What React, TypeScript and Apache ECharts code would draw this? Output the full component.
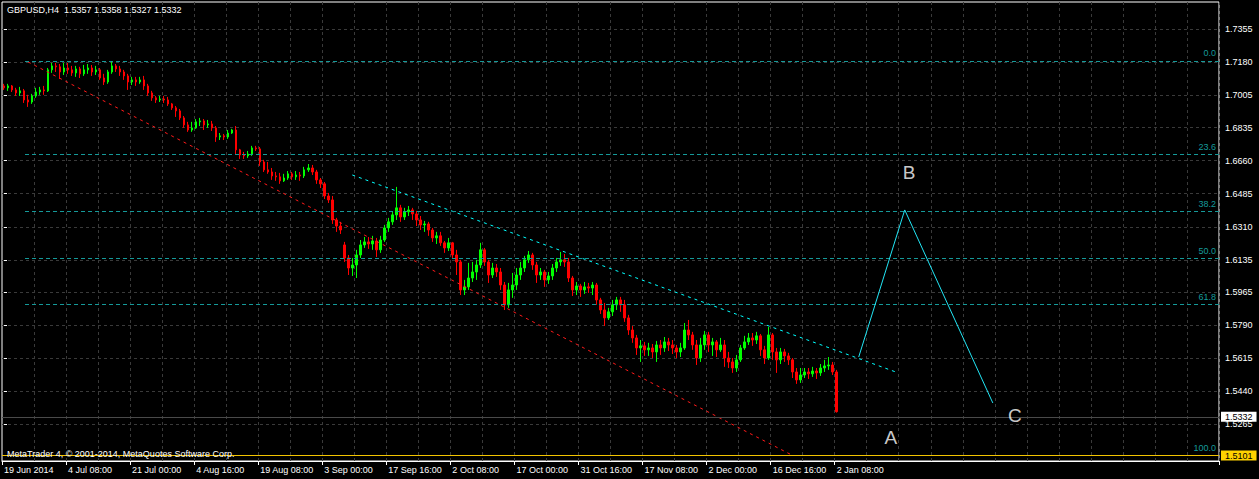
import React, { useEffect, useRef } from "react";
import * as echarts from "echarts";

// ---------- data ----------
const tickLabels = [
  "19 Jun 2014", "4 Jul 08:00", "21 Jul 00:00", "4 Aug 16:00", "19 Aug 08:00",
  "3 Sep 00:00", "17 Sep 16:00", "2 Oct 08:00", "17 Oct 00:00", "31 Oct 16:00",
  "17 Nov 08:00", "2 Dec 00:00", "16 Dec 16:00", "2 Jan 08:00",
];
const priceTicks = [
  1.7355, 1.718, 1.7005, 1.6835, 1.666, 1.6485, 1.631, 1.6135, 1.5965,
  1.579, 1.5615, 1.544, 1.5265,
];
// [open, close, low, high]
const candles = [
  [1.7055,1.7045,1.7034,1.7066],[1.7045,1.7055,1.7029,1.7066],[1.7055,1.7034,1.7023,1.7060],[1.7034,1.7018,1.7002,1.7045],
  [1.7018,1.7029,1.7002,1.7050],[1.7029,1.6981,1.6965,1.7039],[1.6981,1.6970,1.6944,1.7008],[1.6970,1.7002,1.6960,1.7013],
  [1.7002,1.7023,1.6992,1.7045],[1.7023,1.7034,1.7008,1.7050],[1.7034,1.7029,1.7008,1.7055],[1.7029,1.7140,1.7023,1.7150],
  [1.7140,1.7161,1.7124,1.7177],[1.7161,1.7156,1.7129,1.7177],[1.7156,1.7129,1.7092,1.7171],[1.7129,1.7150,1.7113,1.7177],
  [1.7150,1.7140,1.7119,1.7177],[1.7140,1.7124,1.7108,1.7161],[1.7124,1.7145,1.7103,1.7161],[1.7145,1.7119,1.7097,1.7156],
  [1.7119,1.7140,1.7108,1.7166],[1.7140,1.7150,1.7119,1.7171],[1.7150,1.7129,1.7108,1.7166],[1.7129,1.7140,1.7113,1.7161],
  [1.7140,1.7097,1.7087,1.7150],[1.7097,1.7076,1.7060,1.7119],[1.7076,1.7129,1.7066,1.7140],[1.7129,1.7161,1.7119,1.7187],
  [1.7161,1.7145,1.7129,1.7171],[1.7145,1.7129,1.7108,1.7161],[1.7129,1.7108,1.7087,1.7140],[1.7108,1.7076,1.7034,1.7119],
  [1.7076,1.7087,1.7060,1.7103],[1.7087,1.7076,1.7055,1.7103],[1.7076,1.7087,1.7066,1.7103],[1.7087,1.7055,1.7034,1.7108],
  [1.7055,1.7018,1.7002,1.7066],[1.7018,1.6992,1.6976,1.7029],[1.6992,1.6981,1.6965,1.7002],[1.6981,1.6986,1.6970,1.7002],
  [1.6986,1.6981,1.6965,1.7002],[1.6981,1.6960,1.6949,1.6997],[1.6960,1.6939,1.6928,1.6965],[1.6939,1.6923,1.6891,1.6949],
  [1.6923,1.6886,1.6875,1.6933],[1.6886,1.6849,1.6833,1.6896],[1.6849,1.6822,1.6812,1.6865],[1.6822,1.6833,1.6812,1.6865],
  [1.6833,1.6865,1.6828,1.6880],[1.6865,1.6870,1.6843,1.6886],[1.6870,1.6849,1.6822,1.6880],[1.6849,1.6854,1.6833,1.6875],
  [1.6854,1.6833,1.6817,1.6870],[1.6833,1.6785,1.6759,1.6843],[1.6785,1.6791,1.6769,1.6806],[1.6791,1.6785,1.6769,1.6801],
  [1.6785,1.6806,1.6775,1.6822],[1.6806,1.6822,1.6801,1.6828],[1.6822,1.6717,1.6695,1.6843],[1.6717,1.6690,1.6669,1.6722],
  [1.6690,1.6685,1.6669,1.6706],[1.6685,1.6695,1.6674,1.6711],[1.6695,1.6727,1.6685,1.6738],[1.6727,1.6722,1.6711,1.6738],
  [1.6722,1.6653,1.6632,1.6732],[1.6653,1.6611,1.6600,1.6664],[1.6611,1.6600,1.6590,1.6653],[1.6600,1.6579,1.6558,1.6621],
  [1.6579,1.6574,1.6553,1.6600],[1.6574,1.6553,1.6537,1.6595],[1.6553,1.6568,1.6547,1.6590],[1.6568,1.6590,1.6558,1.6605],
  [1.6590,1.6574,1.6558,1.6600],[1.6574,1.6584,1.6558,1.6605],[1.6584,1.6579,1.6553,1.6600],[1.6579,1.6611,1.6568,1.6627],
  [1.6611,1.6621,1.6600,1.6642],[1.6621,1.6600,1.6584,1.6637],[1.6600,1.6558,1.6537,1.6611],[1.6558,1.6537,1.6515,1.6568],
  [1.6537,1.6473,1.6457,1.6547],[1.6473,1.6452,1.6436,1.6489],[1.6452,1.6346,1.6325,1.6473],[1.6346,1.6314,1.6283,1.6357],
  [1.6314,1.6293,1.6272,1.6336],[1.6214,1.6145,1.6124,1.6230],[1.6145,1.6092,1.6055,1.6161],[1.6092,1.6108,1.6050,1.6145],
  [1.6108,1.6161,1.6039,1.6188],[1.6161,1.6214,1.6145,1.6240],[1.6214,1.6230,1.6198,1.6256],[1.6230,1.6219,1.6193,1.6256],
  [1.6219,1.6235,1.6188,1.6262],[1.6235,1.6188,1.6150,1.6251],[1.6188,1.6240,1.6172,1.6262],[1.6240,1.6304,1.6230,1.6320],
  [1.6304,1.6336,1.6283,1.6357],[1.6336,1.6373,1.6320,1.6389],[1.6373,1.6410,1.6346,1.6521],[1.6410,1.6362,1.6336,1.6426],
  [1.6362,1.6389,1.6346,1.6410],[1.6389,1.6399,1.6367,1.6420],[1.6399,1.6378,1.6346,1.6410],[1.6378,1.6346,1.6314,1.6394],
  [1.6346,1.6320,1.6293,1.6367],[1.6320,1.6325,1.6283,1.6341],[1.6325,1.6293,1.6262,1.6336],[1.6293,1.6251,1.6230,1.6304],
  [1.6251,1.6262,1.6219,1.6283],[1.6262,1.6225,1.6209,1.6283],[1.6225,1.6198,1.6172,1.6235],[1.6198,1.6225,1.6182,1.6251],
  [1.6225,1.6161,1.6145,1.6230],[1.6161,1.6124,1.6055,1.6188],[1.6124,1.5976,1.5949,1.6135],[1.5976,1.5992,1.5949,1.6029],
  [1.5992,1.6039,1.5976,1.6119],[1.6039,1.6071,1.6018,1.6124],[1.6071,1.6108,1.6029,1.6135],[1.6108,1.6188,1.6092,1.6225],
  [1.6188,1.6124,1.6103,1.6198],[1.6124,1.6055,1.6013,1.6135],[1.6055,1.6092,1.6039,1.6119],[1.6092,1.6071,1.6045,1.6113],
  [1.6071,1.6002,1.5976,1.6092],[1.6002,1.5897,1.5870,1.6018],[1.5897,1.5976,1.5881,1.6013],[1.5976,1.6002,1.5934,1.6066],
  [1.6002,1.6055,1.5976,1.6092],[1.6055,1.6092,1.6029,1.6124],[1.6092,1.6135,1.6071,1.6156],[1.6135,1.6161,1.6119,1.6182],
  [1.6161,1.6108,1.6082,1.6172],[1.6108,1.6055,1.6013,1.6124],[1.6055,1.6071,1.6029,1.6092],[1.6071,1.6029,1.5992,1.6082],
  [1.6029,1.6050,1.6008,1.6071],[1.6050,1.6092,1.6029,1.6113],[1.6092,1.6124,1.6071,1.6145],[1.6124,1.6135,1.6103,1.6177],
  [1.6135,1.6124,1.6098,1.6166],[1.6124,1.6039,1.6018,1.6145],[1.6039,1.5976,1.5944,1.6050],[1.5976,1.5997,1.5949,1.6018],
  [1.5997,1.5976,1.5939,1.6008],[1.5976,1.5992,1.5955,1.6018],[1.5992,1.5986,1.5960,1.6013],[1.5986,1.6002,1.5949,1.6018],
  [1.6002,1.5923,1.5897,1.6013],[1.5923,1.5870,1.5849,1.5934],[1.5870,1.5828,1.5785,1.5907],[1.5828,1.5860,1.5817,1.5881],
  [1.5860,1.5897,1.5838,1.5923],[1.5897,1.5923,1.5870,1.5939],[1.5923,1.5897,1.5860,1.5939],[1.5897,1.5828,1.5807,1.5923],
  [1.5828,1.5764,1.5738,1.5844],[1.5764,1.5722,1.5696,1.5785],[1.5722,1.5669,1.5632,1.5738],[1.5669,1.5680,1.5595,1.5711],
  [1.5680,1.5659,1.5627,1.5701],[1.5659,1.5669,1.5627,1.5696],[1.5669,1.5648,1.5616,1.5690],[1.5648,1.5685,1.5595,1.5706],
  [1.5685,1.5669,1.5632,1.5711],[1.5669,1.5701,1.5648,1.5727],[1.5701,1.5685,1.5653,1.5722],[1.5685,1.5669,1.5637,1.5711],
  [1.5669,1.5648,1.5616,1.5685],[1.5648,1.5669,1.5621,1.5696],[1.5669,1.5764,1.5659,1.5801],[1.5764,1.5738,1.5711,1.5817],
  [1.5738,1.5685,1.5659,1.5754],[1.5685,1.5616,1.5579,1.5711],[1.5616,1.5685,1.5595,1.5722],[1.5685,1.5738,1.5659,1.5759],
  [1.5738,1.5685,1.5648,1.5754],[1.5685,1.5701,1.5627,1.5722],[1.5701,1.5659,1.5621,1.5711],[1.5659,1.5685,1.5648,1.5722],
  [1.5685,1.5616,1.5569,1.5711],[1.5616,1.5595,1.5563,1.5648],[1.5595,1.5563,1.5537,1.5616],[1.5563,1.5606,1.5542,1.5632],
  [1.5606,1.5669,1.5595,1.5685],[1.5669,1.5701,1.5659,1.5733],[1.5701,1.5722,1.5685,1.5748],[1.5722,1.5711,1.5680,1.5748],
  [1.5711,1.5733,1.5690,1.5754],[1.5733,1.5659,1.5627,1.5743],[1.5659,1.5616,1.5584,1.5680],[1.5616,1.5738,1.5606,1.5780],
  [1.5738,1.5648,1.5606,1.5748],[1.5648,1.5606,1.5537,1.5669],[1.5606,1.5648,1.5584,1.5669],[1.5648,1.5627,1.5595,1.5664],
  [1.5627,1.5606,1.5579,1.5643],[1.5606,1.5542,1.5510,1.5616],[1.5542,1.5500,1.5479,1.5563],[1.5500,1.5526,1.5484,1.5563],
  [1.5526,1.5542,1.5510,1.5563],[1.5542,1.5532,1.5505,1.5563],[1.5532,1.5547,1.5516,1.5569],[1.5547,1.5537,1.5505,1.5563],
  [1.5537,1.5563,1.5521,1.5584],[1.5563,1.5574,1.5542,1.5606],[1.5574,1.5579,1.5553,1.5621],[1.5579,1.5542,1.5526,1.5595],
  [1.5542,1.5332,1.5327,1.5553],
];
const fibLevels = [0.0, 23.6, 38.2, 50.0, 61.8, 100.0];
const fibHigh = 1.7187;
const fibLow = 1.5101;
const fibStartIndex = 5.25;
// drawing objects: [bar index, price]
const lowerChannel = [[6, 1.7182], [196.75, 1.5103]];
const upperChannel = [[87, 1.6584], [222.75, 1.5542]];
const waveABC = [[213.5, 1.5621], [225, 1.6399], [247, 1.5378]];
const waveLabels = [
  { name: "A", value: [221.5, 1.5193] },
  { name: "B", value: [226.1, 1.6595] },
  { name: "C", value: [252.5, 1.5312] },
];
const bidPrice = 1.5332;
const askPrice = 1.5101;
const extraLevel = 1.5346;
const titleText = "GBPUSD,H4  1.5357 1.5358 1.5327 1.5332";
const copyrightText = "MetaTrader 4, \u00a9 2001-2014, MetaQuotes Software Corp.";

// ---------- setup ----------
const SLOTS = 304;
const LAST_TICK = (tickLabels.length - 1) * 16;
const FONT = '"Liberation Sans", Arial, sans-serif';
const GRID = "#3a3a3a";
const TEAL = "#159a9a";
const CYAN = "#00ffff";

const categories = Array.from({ length: SLOTS }, (_, i) =>
  i % 16 === 0 && i / 16 < tickLabels.length ? tickLabels[i / 16] : `#${i}`
);
const isTick = (i: number) => i % 16 === 0 && i <= LAST_TICK;
const fibPrice = (l: number) => fibHigh - ((fibHigh - fibLow) * l) / 100;

const priceBox = (bg: string) => ({
  show: true, position: "end", backgroundColor: bg, color: "#000",
  padding: [1, 4, 0, 4], lineHeight: 9, fontSize: 9, fontFamily: FONT, distance: 2,
  verticalAlign: "middle",
});

const option: any = {
  animation: false,
  backgroundColor: "#000",
  grid: {
    left: 2, top: 2, right: 40, bottom: 18,
    show: true, borderColor: "#fff", borderWidth: 1, backgroundColor: "#000",
  },
  graphic: [
    {
      type: "text", left: 7, top: 5, z: 100,
      style: { text: titleText, fill: "#fff", fontSize: 9, fontFamily: FONT },
    },
    {
      type: "text", left: 7, top: 449, z: 100,
      style: { text: copyrightText, fill: "#fff", fontSize: 9, fontFamily: FONT },
    },
  ],
  xAxis: [
    {
      type: "category", data: categories, boundaryGap: true,
      axisLine: { show: true, lineStyle: { color: "#fff" } },
      axisTick: { show: true, interval: (i: number) => isTick(i), length: 4, lineStyle: { color: "#fff" } },
      axisLabel: {
        interval: (i: number) => isTick(i), color: "#fff", fontSize: 9, fontFamily: FONT,
        align: "left", margin: 4,
        formatter: (v: string) => (v.startsWith("#") ? "" : v),
      },
      splitLine: {
        show: true, interval: (i: number) => i % 8 === 0 && i > 0,
        lineStyle: { color: GRID, type: [3, 3], width: 1 },
      },
    },
    { type: "value", min: -0.5, max: SLOTS - 0.5, show: false },
  ],
  yAxis: {
    type: "value", position: "right", min: 1.5071, max: 1.7499, scale: true,
    axisLine: { show: false },
    axisTick: { show: true, length: 3, lineStyle: { color: "#fff" }, customValues: priceTicks },
    axisLabel: {
      customValues: priceTicks, color: "#fff", fontSize: 9, lineHeight: 9, fontFamily: FONT, margin: 6,
      formatter: (v: number) => v.toFixed(4),
    },
    splitLine: { show: true, lineStyle: { color: GRID, type: [3, 3], width: 1 } },
  },
  series: [
    {
      type: "candlestick", xAxisIndex: 0, yAxisIndex: 0, data: candles, barWidth: 2,
      itemStyle: {
        color: "#00ff00", color0: "#ff0000", borderColor: "#00ff00", borderColor0: "#ff0000", borderWidth: 1,
      },
      silent: true, z: 3,
    },
    {
      type: "line", xAxisIndex: 1, yAxisIndex: 0, data: lowerChannel, symbol: "none", silent: true, z: 4,
      lineStyle: { color: "#ff1a1a", width: 1, type: [3, 4] },
      markLine: {
        silent: true, symbol: ["none", "none"], animation: false,
        lineStyle: { color: TEAL, type: [4, 3], width: 1 },
        label: { show: true, position: "insideEndTop", formatter: "{b}", color: TEAL, fontSize: 9, fontFamily: FONT, distance: 3 },
        data: fibLevels.map((l) => [
          { name: l.toFixed(1), coord: [fibStartIndex, fibPrice(l)] },
          { coord: [SLOTS - 0.5, fibPrice(l)] },
        ]),
      },
    },
    {
      type: "line", xAxisIndex: 1, yAxisIndex: 0, data: upperChannel, symbol: "none", silent: true, z: 4,
      lineStyle: { color: CYAN, width: 1, type: [3, 4] },
    },
    {
      type: "line", xAxisIndex: 1, yAxisIndex: 0, data: waveABC, symbol: "none", silent: true, z: 5,
      lineStyle: { color: "#22e6f5", width: 1, type: "solid" },
      markLine: {
        silent: true, symbol: ["none", "none"], animation: false,
        data: [
          { yAxis: extraLevel, lineStyle: { color: TEAL, type: [4, 3], width: 1 }, label: { show: false } },
          {
            yAxis: bidPrice, lineStyle: { color: "#4a4a4a", type: "solid", width: 1 },
            label: { ...priceBox("#fff"), formatter: bidPrice.toFixed(4), offset: [0, -1] },
          },
          {
            yAxis: askPrice, lineStyle: { color: "#f2c400", type: "solid", width: 1 },
            label: { ...priceBox("#ffd200"), formatter: askPrice.toFixed(4) },
          },
        ],
      },
    },
    {
      type: "scatter", xAxisIndex: 1, yAxisIndex: 0, data: waveLabels, symbolSize: 1, silent: true, z: 6,
      itemStyle: { color: "rgba(0,0,0,0)" },
      label: { show: true, position: "inside", formatter: "{b}", color: "#fff", fontSize: 19, fontFamily: FONT },
    },
  ],
};

export default function App() {
  const ref = useRef<HTMLDivElement>(null);
  useEffect(() => {
    const chart = echarts.init(ref.current as HTMLDivElement, null, { renderer: "svg" });
    chart.setOption(option);
    return () => chart.dispose();
  }, []);
  return (
    <div
      ref={ref}
      style={{ position: "fixed", left: 0, top: 0, width: 1259, height: 479, background: "#000" }}
    />
  );
}
